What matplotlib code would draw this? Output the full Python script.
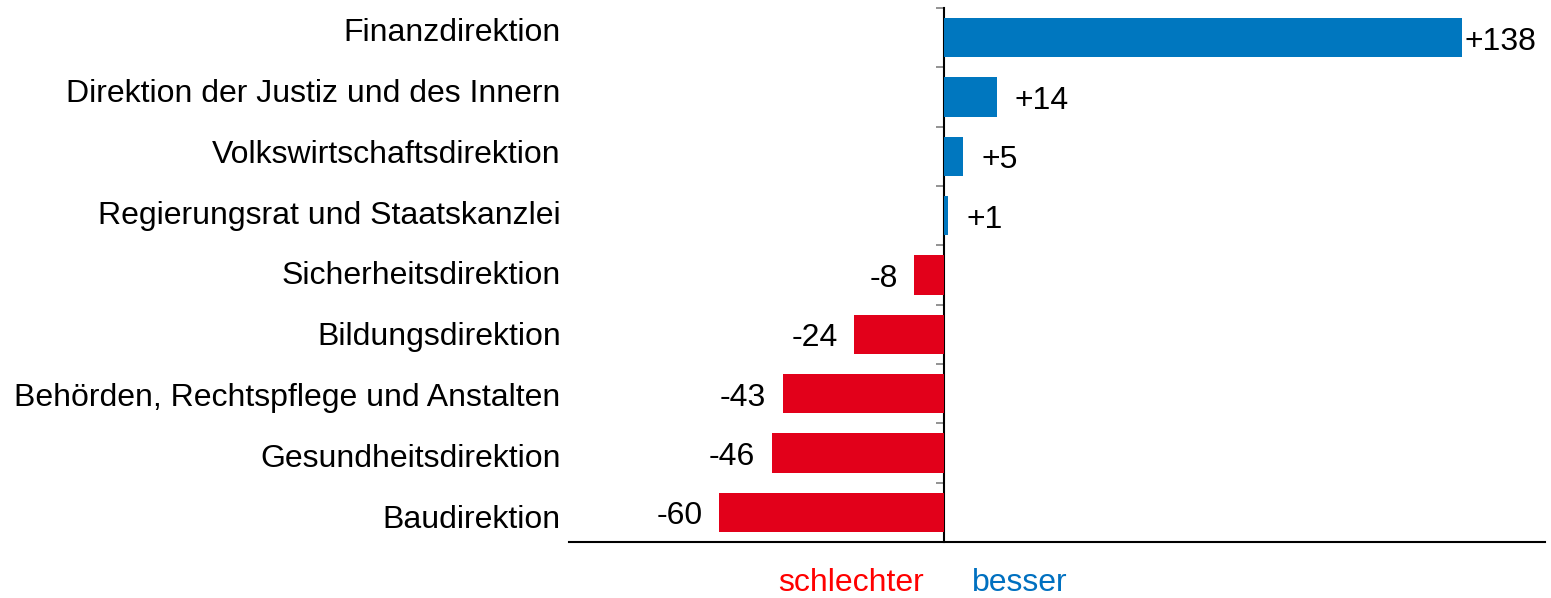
import matplotlib
matplotlib.use("Agg")
import matplotlib.pyplot as plt
import numpy as np

plt.rcParams['font.family'] = ['Liberation Sans', 'DejaVu Sans']

# categories top to bottom and their change
categories = ["Finanzdirektion", "Direktion der Justiz und des Innern",
              "Volkswirtschaftsdirektion", "Regierungsrat und Staatskanzlei",
              "Sicherheitsdirektion", "Bildungsdirektion",
              "Behörden, Rechtspflege und Anstalten", "Gesundheitsdirektion",
              "Baudirektion"]
values = [138, 14, 5, 1, -8, -24, -43, -46, -60]

blue = "#0077BF"
red = "#E2001A"
fs = 23

fig = plt.figure(figsize=(15.51, 5.98), dpi=100)
ax = fig.add_axes([569/1551, 1-542/598, (1545-569)/1551, (542-8)/598])

y = np.arange(len(categories))
colors = [blue if v > 0 else red for v in values]
ax.barh(y, values, height=0.66, color=colors)

xmin, xmax = -100, 160
ax.set_xlim(xmin, xmax)
ax.set_ylim(len(categories) - 0.5, -0.5)

# value labels
for yi, v in zip(y, values):
    if v > 0:
        off = 1.5 if v > 100 else 13
        ax.annotate(f"+{v}", (v, yi), xytext=(off, -3), textcoords="offset points",
                    ha="left", va="center", fontsize=fs)
    else:
        ax.annotate(f"{v}", (v, yi), xytext=(-12, -3), textcoords="offset points",
                    ha="right", va="center", fontsize=fs)

# category labels sit on a slightly wider spacing than the bars
ax.set_yticks(y * 1.024 - 0.13)
ax.set_yticklabels(categories, fontsize=fs)
ax.tick_params(axis="y", length=0, pad=6)
ax.set_xticks([])

for s in ["top", "right", "left"]:
    ax.spines[s].set_visible(False)
ax.spines["bottom"].set_linewidth(1.5)

# zero line with category separator ticks
zero = ax.secondary_yaxis((0 - xmin) / (xmax - xmin))
zero.spines["left"].set_linewidth(1.5)
zero.set_yticks([])
zero.set_yticks(np.arange(-0.5, len(categories), 1), minor=True)
zero.tick_params(axis="y", which="minor", length=6, color="#808080", width=1.2)

fig.text(924/1551, 1-583/598, "schlechter", color="#FF0000", fontsize=fs,
         ha="right", va="center")
fig.text(972/1551, 1-583/598, "besser", color="#0070C0", fontsize=fs,
         ha="left", va="center")

fig.savefig("out.png", dpi=100)
